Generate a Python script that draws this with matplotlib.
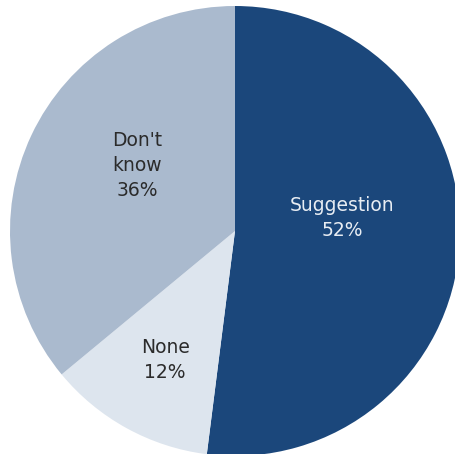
import matplotlib
matplotlib.use("Agg")
from matplotlib import pyplot as plt

# answer categories, clockwise from 12 o'clock
labels = ["Suggestion", "None", "Don't\nknow"]
shares = [52, 12, 36]
colors = ["#1b477b", "#dde5ee", "#aabace"]
text_colors = ["#e8edf3", "#2b2b2b", "#2b2b2b"]

# label centres in data units (pie radius = 1)
label_pos = [(0.475, 0.058), (-0.31, -0.575), (-0.435, 0.29)]

fig = plt.figure(figsize=(4.55, 4.54), dpi=100)
R = 225
cx, cy = 235, 231
ax = fig.add_axes([(cx - R) / 455, (454 - cy - R) / 454, 2 * R / 455, 2 * R / 454])

ax.pie(shares, colors=colors, startangle=90, counterclock=False,
       wedgeprops=dict(linewidth=0), radius=1)
ax.set_xlim(-1, 1)
ax.set_ylim(-1, 1)
ax.set_aspect("auto")
ax.axis("off")

for lab, val, col, (x, y) in zip(labels, shares, text_colors, label_pos):
    ax.text(x, y, f"{lab}\n{val}%", ha="center", va="center", color=col,
            fontsize=13.5, linespacing=1.4, family="DejaVu Sans")

fig.savefig("out.png", dpi=100)
